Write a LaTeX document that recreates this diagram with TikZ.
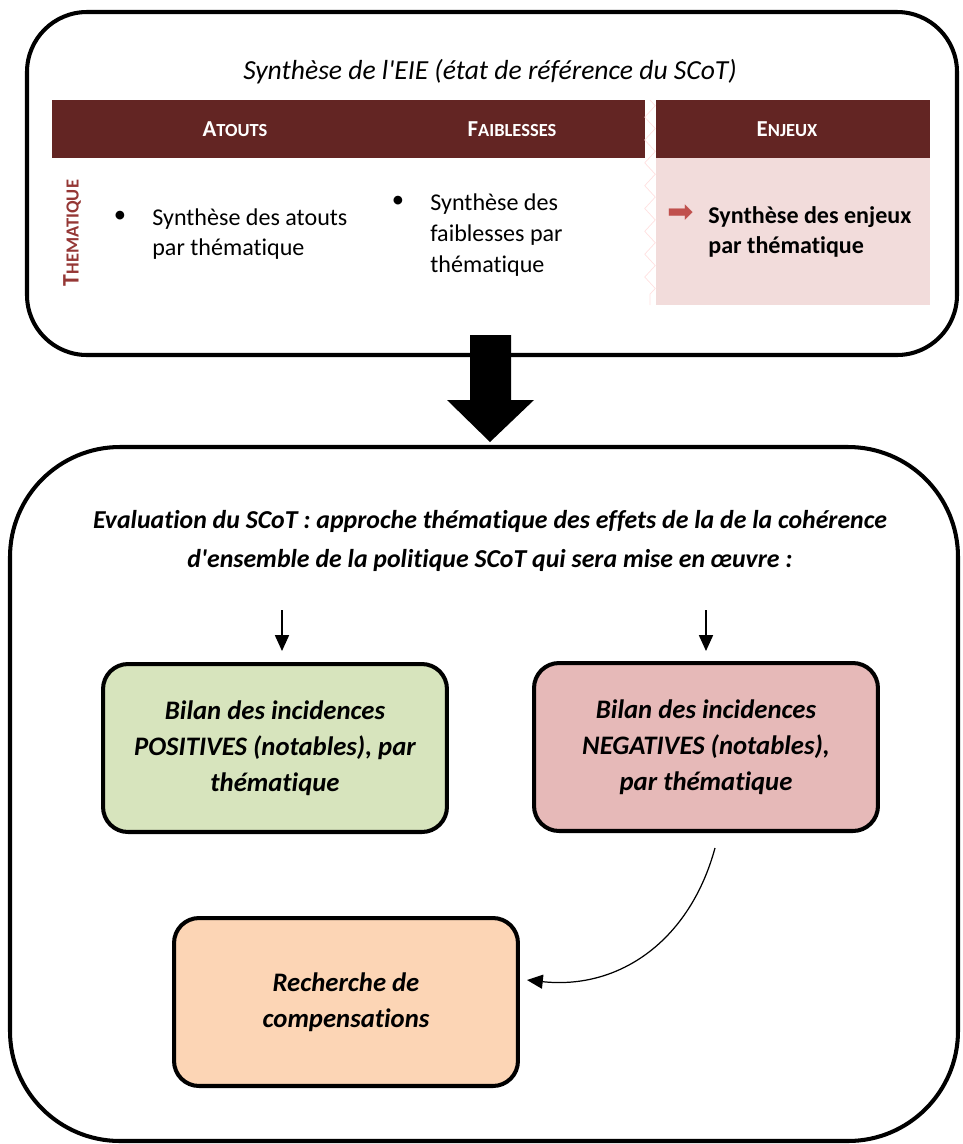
\documentclass[tikz,border=0pt]{standalone}
\usepackage{fontspec}
\setmainfont{Carlito}[RawFeature=-liga]
\newfontfamily\symfont{DejaVu Sans}
\usetikzlibrary{arrows.meta,decorations.pathmorphing}
\definecolor{bordeaux}{HTML}{632523}
\definecolor{rosepale}{HTML}{F2DCDB}
\definecolor{vertpale}{HTML}{D7E4BD}
\definecolor{rougepale}{HTML}{E6B9B8}
\definecolor{orangepale}{HTML}{FCD5B5}
\definecolor{rougetxt}{HTML}{953735}
\definecolor{fleche}{HTML}{C0504D}

\begin{document}
\begin{tikzpicture}[x=0.02cm,y=-0.02cm,
  cadre/.style={draw, line width=2.3pt},
  bilan/.style={draw, line width=2.3pt, rounded corners=0.5cm, align=center, minimum width=6.88cm, minimum height=3.36cm, font=\fontsize{15.2}{20.5}\selectfont\bfseries\itshape},
  entete/.style={text=white, font=\fontsize{13}{15}\selectfont\bfseries},
  texte/.style={align=left, anchor=west, inner sep=0pt, font=\fontsize{13.7}{17.5}\selectfont},
  fin/.style={-{Triangle[length=9pt,width=8pt]}, line width=0.7pt}]
\useasboundingbox (0,0) rectangle (963,1144);

\draw[cadre, rounded corners=1.2cm] (27,12) rectangle (957,355);
\node (titre) at (490,72) {\fontsize{15.7}{18}\selectfont\itshape Synthèse de l\textquotesingle EIE (état de référence du SCoT)};

\fill[bordeaux] (52,100) rectangle (645,158);
\fill[bordeaux] (656,100) rectangle (930,158);
\fill[rosepale] (656,158) rectangle (930,305);
\draw[red!12, decorate, decoration={zigzag, segment length=13pt, amplitude=3pt}] (650,100) -- (650,305);
\node[entete] (atouts) at (235,129) {A{\fontsize{10.5}{12}\selectfont TOUTS}};
\node[entete] (faiblesses) at (512,129) {F{\fontsize{10.5}{12}\selectfont AIBLESSES}};
\node[entete] (enjeux) at (787,129) {E{\fontsize{10.5}{12}\selectfont NJEUX}};
\node[rotate=90, text=rougetxt, font=\fontsize{13.5}{15}\selectfont\bfseries] (thema) at (72,233) {T{\fontsize{10.5}{12}\selectfont HEMATIQUE}};

\node[font=\fontsize{14}{17}\selectfont] (puce1) at (120,217) {\textbullet};
\node[texte] (txtatouts) at (152,234) {Synthèse des atouts\\par thématique};
\node[font=\fontsize{14}{17}\selectfont] (puce2) at (398,202) {\textbullet};
\node[texte] (txtfaibl) at (430,235) {Synthèse des\\faiblesses par\\thématique};
\node[text=fleche, font=\fontsize{18}{20}\selectfont\symfont, inner sep=0pt] (puce3) at (681,214) {➡};
\node[texte, font=\fontsize{13.7}{17.5}\selectfont\bfseries] (txtenjeux) at (708,232) {Synthèse des enjeux\\par thématique};

\fill (470,335) -- (511,335) -- (511,400) -- (534,400) -- (490,442) -- (447,400) -- (470,400) -- cycle;

\draw[cadre, rounded corners=2.2cm] (10,447) rectangle (958,1141);
\node[align=center, font=\fontsize{14.7}{20}\selectfont\bfseries\itshape] (evaluation) at (490,541) {Evaluation du SCoT : approche thématique des effets de la de la cohérence\\[2pt]d\textquotesingle ensemble de la politique SCoT qui sera mise en œuvre :};

\node[bilan, fill=vertpale] (positif) at (275,748) {Bilan des incidences\\POSITIVES (notables), par\\thématique};
\node[bilan, fill=rougepale] (negatif) at (706,747) {Bilan des incidences\\NEGATIVES (notables),\\par thématique};
\node[bilan, fill=orangepale] (compens) at (346,1002) {Recherche de\\compensations};

\coordinate (g0) at (282,610);
\coordinate (g1) at (282,651);
\coordinate (d0) at (706,610);
\coordinate (d1) at (706,651);
\coordinate (c0) at (715,848);
\coordinate (c1) at (527,980);
\draw[fin] (g0) -- (g1);
\draw[fin] (d0) -- (d1);
\draw[fin] (c0) .. controls (690,940) and (620,990) .. (c1);
\end{tikzpicture}
\end{document}
